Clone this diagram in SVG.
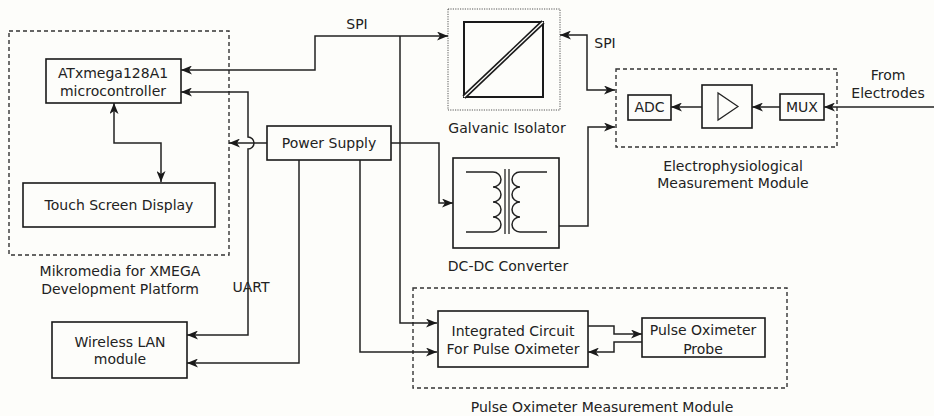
<svg xmlns="http://www.w3.org/2000/svg" width="934" height="416" viewBox="0 0 934 416">
<defs>
<marker id="ah" markerUnits="userSpaceOnUse" markerWidth="11" markerHeight="9" refX="11" refY="4.5" orient="auto-start-reverse">
<path d="M0,0 L11,4.5 L0,9 L3,4.5 z" fill="#1a1a1a"/>
</marker>
</defs>
<style>
text{font-family:"DejaVu Sans","Liberation Sans",sans-serif;font-size:14px;fill:#222;text-anchor:middle}
.box{fill:none;stroke:#1a1a1a;stroke-width:1.6}
.dash{fill:none;stroke:#333;stroke-width:1.4;stroke-dasharray:4,3}
.dot{fill:none;stroke:#555;stroke-width:1;stroke-dasharray:1.2,1.2}
.ln{fill:none;stroke:#222;stroke-width:1.5}
.ar{marker-end:url(#ah)}
.ar2{marker-start:url(#ah);marker-end:url(#ah)}
</style>
<rect x="0" y="0" width="934" height="416" fill="#fdfdfa"/>

<g id="mikromedia">
<rect class="dash" x="9" y="31" width="220" height="224"/>
<text x="120" y="276">Mikromedia for XMEGA</text>
<text x="120" y="294">Development Platform</text>
</g>
<g id="atxmega">
<rect class="box" x="46" y="59" width="135" height="44"/>
<text x="113" y="78">ATxmega128A1</text>
<text x="113" y="96">microcontroller</text>
</g>
<g id="touch">
<rect class="box" x="23" y="183" width="192" height="44"/>
<text x="119" y="210">Touch Screen Display</text>
</g>
<g id="wlan">
<rect class="box" x="52" y="322" width="135" height="56"/>
<text x="120" y="347">Wireless LAN</text>
<text x="120" y="364">module</text>
</g>
<g id="power">
<rect class="box" x="267" y="126" width="124" height="34"/>
<text x="329" y="148">Power Supply</text>
</g>
<g id="galvanic">
<rect class="dot" x="448" y="9" width="112" height="101"/>
<rect x="464" y="22" width="79" height="75" fill="none" stroke="#1a1a1a" stroke-width="2"/>
<line x1="464" y1="97" x2="543" y2="22" stroke="#1a1a1a" stroke-width="4.5"/>
<line x1="464" y1="97" x2="543" y2="22" stroke="#fdfdfa" stroke-width="1.3"/>
<text x="507" y="133">Galvanic Isolator</text>
</g>
<g id="dcdc">
<rect class="box" x="453" y="158" width="106" height="90"/>
<path class="ln" stroke-width="1.3" d="M466,172 H493 a8,7.5 0 0 1 0,15 a8,7.5 0 0 1 0,15 a8,7.5 0 0 1 0,15 a8,7.5 0 0 1 0,15 H466"/>
<path class="ln" stroke-width="1.3" d="M547,172 H520 a8,7.5 0 0 0 0,15 a8,7.5 0 0 0 0,15 a8,7.5 0 0 0 0,15 a8,7.5 0 0 0 0,15 H547"/>
<line x1="505" y1="169" x2="505" y2="234" stroke="#222" stroke-width="1.3"/>
<line x1="509" y1="169" x2="509" y2="234" stroke="#222" stroke-width="1.3"/>
<text x="508" y="271">DC-DC Converter</text>
</g>
<g id="electro">
<rect class="dash" x="616" y="69" width="221" height="78"/>
<text x="733" y="171">Electrophysiological</text>
<text x="733" y="188">Measurement Module</text>
</g>
<g id="adc">
<rect class="box" x="628" y="95" width="43" height="25"/>
<text x="649.5" y="112">ADC</text>
</g>
<g id="amp">
<rect class="box" x="702" y="85" width="50" height="43"/>
<path d="M718,93 L718,120 L738,106.5 z" fill="none" stroke="#222" stroke-width="1.2"/>
</g>
<g id="mux">
<rect class="box" x="780" y="94" width="44" height="26"/>
<text x="802" y="112">MUX</text>
</g>
<g id="electrodes">
<text x="888" y="80">From</text>
<text x="888" y="98">Electrodes</text>
</g>
<g id="pulsemodule">
<rect class="dash" x="413" y="288" width="374" height="100"/>
<text x="602" y="412">Pulse Oximeter Measurement Module</text>
</g>
<g id="ic">
<rect class="box" x="438" y="311" width="150" height="56"/>
<text x="513" y="336">Integrated Circuit</text>
<text x="513" y="354">For Pulse Oximeter</text>
</g>
<g id="probe">
<rect class="box" x="642" y="318" width="123" height="39"/>
<text x="703" y="335">Pulse Oximeter</text>
<text x="703" y="354">Probe</text>
</g>

<g id="connectors">
<path class="ln ar2" d="M181,70 H315 V36 H448"/>
<path class="ln ar" d="M400,36 V323 H437"/>
<path class="ln ar2" d="M181,92 H248 V137 a6,6 0 0 1 0,12 V335 H187"/>
<path class="ln ar" d="M267,143 H229"/>
<path class="ln ar" d="M299,160 V363 H187"/>
<path class="ln ar" d="M360,160 V352 H437"/>
<path class="ln ar" d="M391,143 H439 V203 H453"/>
<path class="ln ar" d="M559,226 H588 V127 H615"/>
<path class="ln ar2" d="M560,35 H587 V90 H615"/>
<path class="ln ar2" d="M114,103 V143 H161 V182"/>
<path class="ln ar" d="M702,107 H671"/>
<path class="ln ar" d="M780,107 H752"/>
<path class="ln ar" d="M934,107 H824"/>
<path class="ln ar" d="M588,326 H614 V334 H642"/>
<path class="ln ar" d="M642,342 H614 V352 H588"/>
<text x="357" y="29">SPI</text>
<text x="605" y="48">SPI</text>
<text x="251" y="292">UART</text>
</g>
</svg>
